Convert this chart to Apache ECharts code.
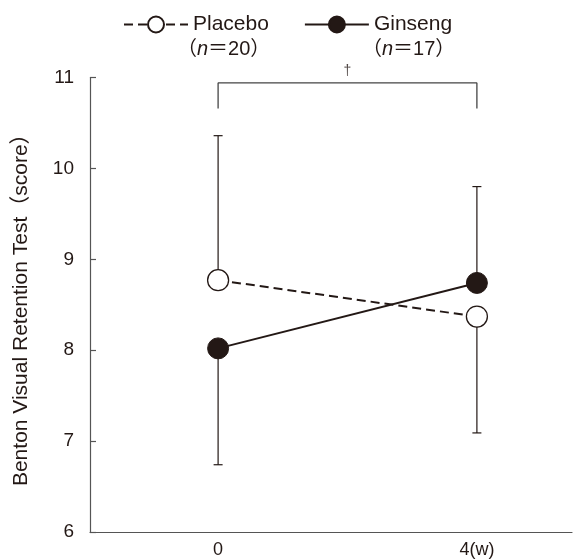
<!DOCTYPE html>
<html>
<head>
<meta charset="utf-8">
<script src="https://cdn.jsdelivr.net/npm/echarts@6/dist/echarts.min.js"></script>
<style>html,body{margin:0;padding:0;background:#fff;}#c{width:578px;height:560px;}</style>
</head>
<body>
<div id="c"></div>
<script>
// ---- data ----
var weeks = [0, 4];
var xTickLabels = ['0', '4(w)'];
var yTicks = [6, 7, 8, 9, 10, 11];
var placeboMean = [8.77, 8.37];
var placeboErrEnd = [10.36, 7.09];
var ginsengMean = [8.02, 8.74];
var ginsengErrEnd = [6.74, 9.80];
var bracketX = [0, 0, 4, 4];
var bracketY = [10.66, 10.94, 10.94, 10.66];
var sigMark = '†';
var seriesNames = ['Placebo', 'Ginseng'];
var seriesN = ['20', '17'];

var INK = '#231815';
var FONT = '"Liberation Sans", Arial, "Noto Sans CJK JP", sans-serif';

function pairs(xs, ys) { return xs.map(function (x, i) { return [x, ys[i]]; }); }
function errData(means, ends) { return weeks.map(function (w, i) { return [w, means[i], ends[i]]; }); }

function renderErr(params, api) {
  var x = api.value(0), m = api.value(1), e = api.value(2);
  var p0 = api.coord([x, m]), p1 = api.coord([x, e]);
  var hw = 4.5;
  var st = { stroke: INK, lineWidth: 1.2 };
  return { type: 'group', children: [
    { type: 'line', shape: { x1: p0[0], y1: p0[1], x2: p1[0], y2: p1[1] }, style: st },
    { type: 'line', shape: { x1: p1[0] - hw, y1: p1[1], x2: p1[0] + hw, y2: p1[1] }, style: st }
  ]};
}

var chart = echarts.init(document.getElementById('c'), null, { renderer: 'canvas' });
chart.setOption({
  animation: false,
  textStyle: { fontFamily: FONT },
  grid: { left: 90, right: 6, top: 77.5, bottom: 28, containLabel: false },
  legend: {
    data: seriesNames,
    left: 118, top: 9,
    itemWidth: 64, itemHeight: 20, itemGap: 35, itemTextGap: 4,
    textStyle: { fontSize: 21, color: INK, fontFamily: FONT }
  },
  graphic: [
    { type: 'text', left: 177, top: 39, style: { text: '（{i|n}＝' + seriesN[0] + '）', fontSize: 20, fill: INK, fontFamily: FONT, rich: { i: { fontStyle: 'italic', fontSize: 20, fontFamily: FONT } } } },
    { type: 'text', left: 362, top: 39, style: { text: '（{i|n}＝' + seriesN[1] + '）', fontSize: 20, fill: INK, fontFamily: FONT, rich: { i: { fontStyle: 'italic', fontSize: 20, fontFamily: FONT } } } }
  ],
  xAxis: {
    type: 'value', min: -1.98, max: 5.47,
    splitLine: { show: false },
    axisLine: { show: true, onZero: false, lineStyle: { color: '#555', width: 1.2 } },
    axisTick: { show: false },
    axisLabel: {
      customValues: weeks, margin: 9, fontSize: 18, color: INK, fontFamily: FONT,
      formatter: function (v) { var i = weeks.indexOf(v); return i >= 0 ? xTickLabels[i] : ''; }
    }
  },
  yAxis: {
    type: 'value', min: 6, max: 11, interval: 1,
    name: 'Benton Visual Retention Test（score）',
    nameLocation: 'middle', nameGap: 58, nameRotate: 90,
    nameTextStyle: { fontSize: 21, color: INK, fontFamily: FONT },
    splitLine: { show: false },
    axisLine: { show: true, onZero: false, lineStyle: { color: '#555', width: 1.2 } },
    axisTick: { show: true, inside: true, length: 6, lineStyle: { color: '#555', width: 1.2 } },
    axisLabel: { margin: 16, fontSize: 19, color: INK, fontFamily: FONT,
      formatter: function (v) { return yTicks.indexOf(v) >= 0 ? String(v) : ''; } }
  },
  series: [
    { type: 'custom', name: 'errP', renderItem: renderErr, data: errData(placeboMean, placeboErrEnd), z: 1, silent: true },
    { type: 'custom', name: 'errG', renderItem: renderErr, data: errData(ginsengMean, ginsengErrEnd), z: 1, silent: true },
    { type: 'line', name: 'bracket', data: pairs(bracketX, bracketY), symbol: 'none', silent: true, z: 1,
      lineStyle: { color: '#444', width: 1.3 } },
    { type: 'scatter', name: 'sig', data: [[(bracketX[0] + bracketX[3]) / 2, bracketY[1]]], symbolSize: 1,
      itemStyle: { color: 'rgba(0,0,0,0)' }, silent: true,
      label: { show: true, position: 'top', distance: 4, formatter: sigMark, fontSize: 14, color: INK } },
    { type: 'line', name: seriesNames[0], data: pairs(weeks, placeboMean), z: 3,
      symbol: 'circle', symbolSize: 21,
      itemStyle: { color: '#fff', borderColor: INK, borderWidth: 1.3 },
      lineStyle: { color: INK, width: 2, type: [9, 5] } },
    { type: 'line', name: seriesNames[1], data: pairs(weeks, ginsengMean), z: 4,
      symbol: 'circle', symbolSize: 21,
      itemStyle: { color: INK, borderColor: INK, borderWidth: 1 },
      lineStyle: { color: INK, width: 2 } }
  ]
});
</script>
</body>
</html>
